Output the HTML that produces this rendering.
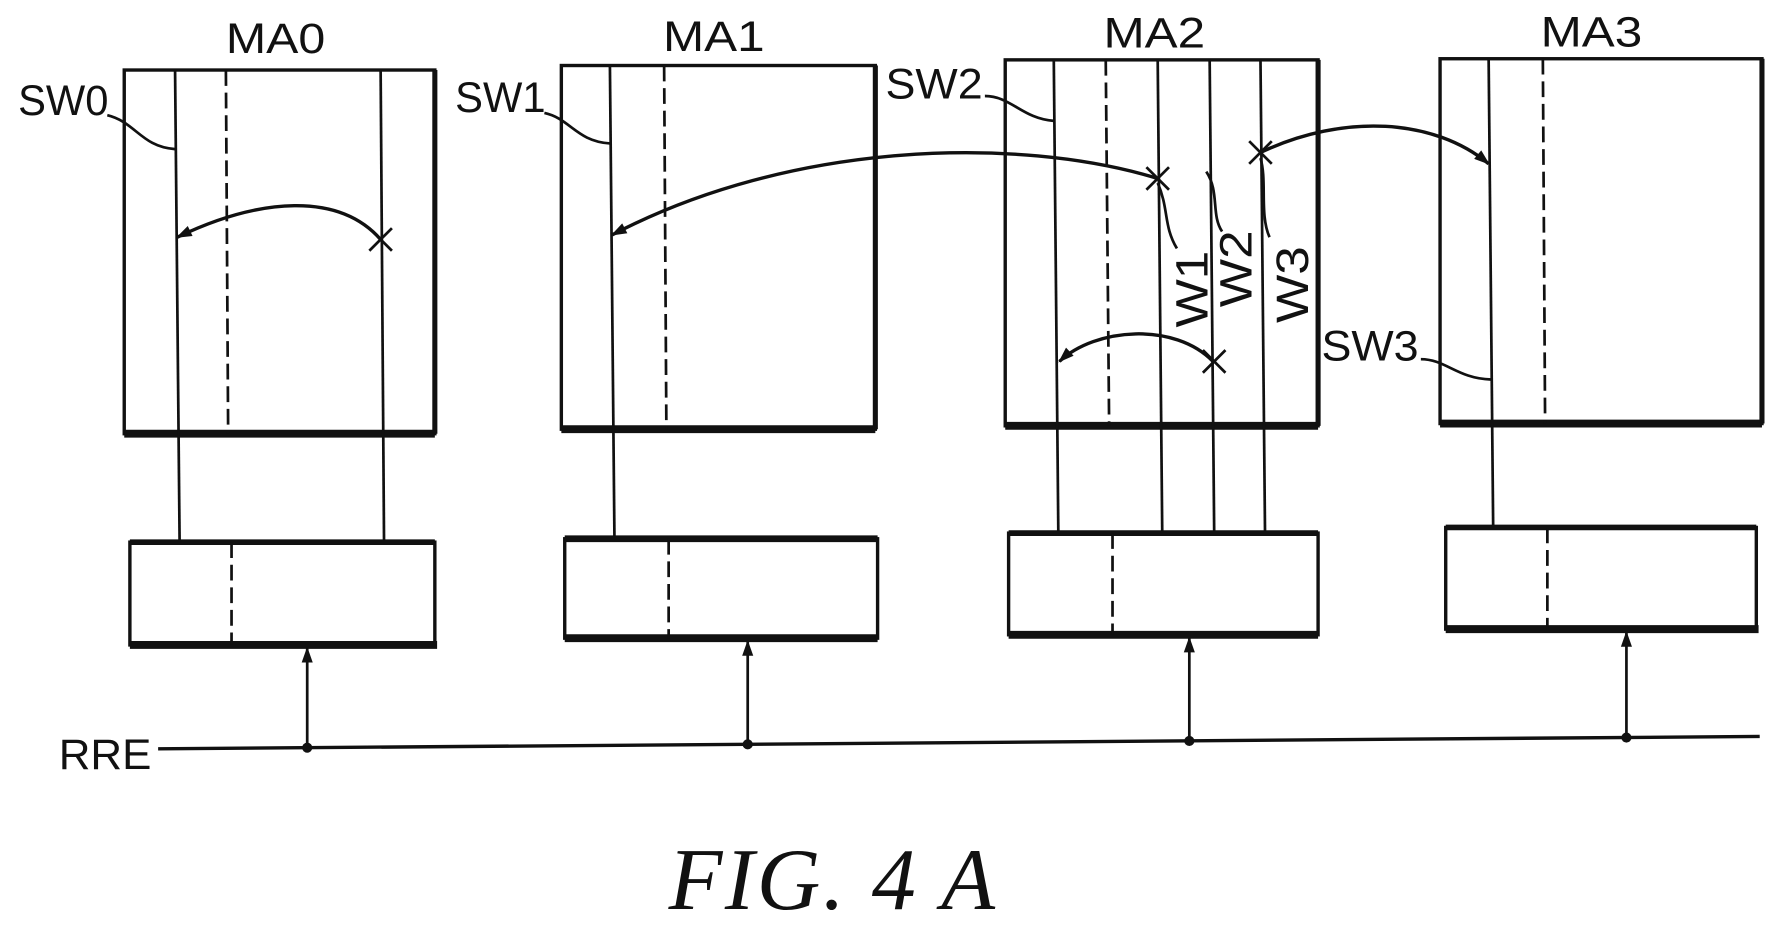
<!DOCTYPE html>
<html><head><meta charset="utf-8"><style>
html,body{margin:0;padding:0;background:#fff;}
svg{display:block;}
text{font-family:"Liberation Sans",sans-serif;fill:#111;}
</style></head><body>
<svg width="1771" height="929" viewBox="0 0 1568 822.5" preserveAspectRatio="none" xmlns="http://www.w3.org/2000/svg">
<defs>
<marker id="ah2" viewBox="0 0 10 10" refX="9" refY="5" markerWidth="22" markerHeight="14" orient="auto" markerUnits="userSpaceOnUse">
<path d="M0,1.5 L10,5 L0,8.5 z" fill="#111"/></marker>
</defs>
<g stroke="#111" fill="none" stroke-width="2.4">
<rect x="110" y="62" width="275" height="322" stroke-width="3"/>
<line x1="110" y1="384" x2="385" y2="384" stroke-width="7"/>
<line x1="385" y1="62" x2="385" y2="384" stroke-width="4.5"/>
<line x1="155" y1="62" x2="159" y2="478"/>
<line x1="200" y1="62" x2="202" y2="384" stroke-dasharray="14,6"/>
<line x1="337" y1="62" x2="340" y2="478"/>
<rect x="497" y="58" width="278" height="322" stroke-width="3"/>
<line x1="497" y1="380" x2="775" y2="380" stroke-width="7"/>
<line x1="775" y1="58" x2="775" y2="380" stroke-width="4.5"/>
<line x1="540" y1="58" x2="544" y2="475"/>
<line x1="588" y1="58" x2="590" y2="380" stroke-dasharray="14,6"/>
<rect x="890" y="53" width="277" height="324" stroke-width="3"/>
<line x1="890" y1="377" x2="1167" y2="377" stroke-width="7"/>
<line x1="1167" y1="53" x2="1167" y2="377" stroke-width="4.5"/>
<line x1="933" y1="53" x2="937" y2="470"/>
<line x1="979" y1="53" x2="982" y2="377" stroke-dasharray="14,6"/>
<line x1="1025" y1="53" x2="1029" y2="470"/>
<line x1="1071" y1="53" x2="1075" y2="470"/>
<line x1="1116" y1="53" x2="1120" y2="470"/>
<rect x="1275" y="52" width="285" height="323" stroke-width="3"/>
<line x1="1275" y1="375" x2="1560" y2="375" stroke-width="7"/>
<line x1="1560" y1="52" x2="1560" y2="375" stroke-width="4.5"/>
<line x1="1318" y1="52" x2="1322" y2="465"/>
<line x1="1366" y1="52" x2="1368" y2="375" stroke-dasharray="14,6"/>
<rect x="115" y="480" width="270" height="91" stroke-width="3"/>
<line x1="115" y1="480" x2="385" y2="480" stroke-width="5"/>
<line x1="115" y1="571" x2="387" y2="571" stroke-width="7"/>
<line x1="205" y1="480" x2="205" y2="571" stroke-dasharray="14,6"/>
<rect x="500" y="477" width="277" height="88" stroke-width="3"/>
<line x1="500" y1="477" x2="777" y2="477" stroke-width="6"/>
<line x1="500" y1="565" x2="777" y2="565" stroke-width="7"/>
<line x1="592" y1="477" x2="592" y2="565" stroke-dasharray="14,6"/>
<rect x="893" y="472" width="274" height="90" stroke-width="3"/>
<line x1="893" y1="472" x2="1167" y2="472" stroke-width="5"/>
<line x1="893" y1="562" x2="1167" y2="562" stroke-width="7"/>
<line x1="985" y1="472" x2="985" y2="562" stroke-dasharray="14,6"/>
<rect x="1280" y="467" width="275" height="90" stroke-width="3"/>
<line x1="1280" y1="467" x2="1555" y2="467" stroke-width="5"/>
<line x1="1280" y1="557" x2="1557" y2="557" stroke-width="7"/>
<line x1="1370" y1="467" x2="1370" y2="557" stroke-dasharray="14,6"/>
<line x1="140" y1="663" x2="1558" y2="652" stroke-width="3"/>
<line x1="272" y1="662" x2="272" y2="574" marker-end="url(#ah2)"/>
<line x1="662" y1="659" x2="662" y2="568" marker-end="url(#ah2)"/>
<line x1="1053" y1="656" x2="1053" y2="565" marker-end="url(#ah2)"/>
<line x1="1440" y1="653" x2="1440" y2="560" marker-end="url(#ah2)"/>
<path d="M95,102 C120,108 125,130 155,132"/>
<path d="M482,100 C505,105 510,125 540,127"/>
<path d="M872,85 C895,85 905,105 933,107"/>
<path d="M1258,318 C1280,318 1290,335 1320,336"/>
<path d="M1025,162 C1035,185 1030,200 1042,220"/>
<path d="M1068,152 C1080,170 1072,190 1082,205"/>
<path d="M1116,140 C1122,160 1115,190 1124,210"/>
<path d="M337,212 C300,170 230,175 157,210" marker-end="url(#ah2)" stroke-width="3"/>
<path d="M1025,158 C900,120 700,125 542,208" marker-end="url(#ah2)" stroke-width="3"/>
<path d="M1074,320 C1040,285 970,290 938,320" marker-end="url(#ah2)" stroke-width="3"/>
<path d="M1116,135 C1190,100 1270,105 1318,145" marker-end="url(#ah2)" stroke-width="3"/>
<path d="M327,202 L347,222 M347,202 L327,222"/>
<path d="M1015,148 L1035,168 M1035,148 L1015,168"/>
<path d="M1106,125 L1126,145 M1126,125 L1106,145"/>
<path d="M1065,310 L1085,330 M1085,310 L1065,330"/>
</g>
<g fill="#111">
<circle cx="272" cy="662" r="4.5"/><circle cx="662" cy="659" r="4.5"/><circle cx="1053" cy="656" r="4.5"/><circle cx="1440" cy="653" r="4.5"/>
</g>
<g font-size="38">
<text x="200" y="47" textLength="88" lengthAdjust="spacingAndGlyphs">MA0</text>
<text x="587" y="45" textLength="90" lengthAdjust="spacingAndGlyphs">MA1</text>
<text x="977" y="42" textLength="90" lengthAdjust="spacingAndGlyphs">MA2</text>
<text x="1364" y="41" textLength="90" lengthAdjust="spacingAndGlyphs">MA3</text>
<text x="16" y="102" textLength="80" lengthAdjust="spacingAndGlyphs">SW0</text>
<text x="403" y="99" textLength="80" lengthAdjust="spacingAndGlyphs">SW1</text>
<text x="784" y="87" textLength="86" lengthAdjust="spacingAndGlyphs">SW2</text>
<text x="1170" y="319" textLength="86" lengthAdjust="spacingAndGlyphs">SW3</text>
<text x="52" y="681" textLength="82" lengthAdjust="spacingAndGlyphs">RRE</text>
</g>
<g font-size="40">
<text transform="translate(1069,290) rotate(-90)" textLength="68" lengthAdjust="spacingAndGlyphs">W1</text>
<text transform="translate(1108,272) rotate(-90)" textLength="68" lengthAdjust="spacingAndGlyphs">W2</text>
<text transform="translate(1158,286) rotate(-90)" textLength="68" lengthAdjust="spacingAndGlyphs">W3</text>
</g>
<text x="592" y="805" font-style="italic" font-size="78" textLength="295" lengthAdjust="spacing" letter-spacing="6" style="font-family:'Liberation Serif',serif">FIG. 4 A</text>
</svg>
</body></html>
